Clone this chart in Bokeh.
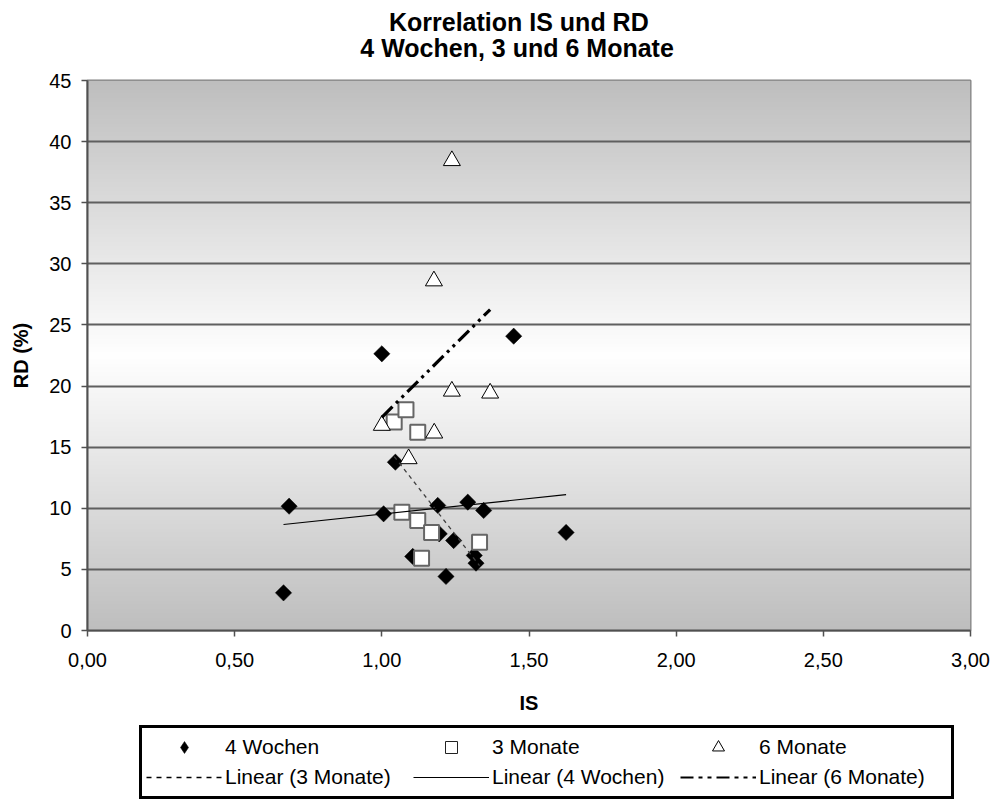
import numpy as np
from bokeh.plotting import figure
from bokeh.layouts import column
from bokeh.models import Range1d, FixedTicker, Legend, LegendItem, Label
from bokeh.embed import file_html
from bokeh.resources import INLINE

# ---------------- data ----------------
TITLE_1 = "Korrelation IS und RD"
TITLE_2 = "4 Wochen, 3 und 6 Monate"
X_LABEL = "IS"
Y_LABEL = "RD (%)"
X_TICKS = [0.0, 0.5, 1.0, 1.5, 2.0, 2.5, 3.0]
X_TICK_LABELS = ["0,00", "0,50", "1,00", "1,50", "2,00", "2,50", "3,00"]
Y_TICKS = [0, 5, 10, 15, 20, 25, 30, 35, 40, 45]

SERIES_NAMES = ["4 Wochen", "3 Monate", "6 Monate"]

IS_4W = [0.666, 0.685, 1.006, 1.000, 1.046, 1.105, 1.190, 1.195, 1.218, 1.244,
         1.292, 1.314, 1.320, 1.346, 1.448, 1.626]
RD_4W = [3.08, 10.17, 9.55, 22.64, 13.77, 6.06, 10.23, 7.91, 4.42, 7.36,
         10.50, 6.14, 5.51, 9.82, 24.08, 8.02]

IS_3M = [1.042, 1.082, 1.122, 1.068, 1.122, 1.169, 1.332, 1.135]
RD_3M = [17.05, 18.06, 16.23, 9.68, 9.00, 8.02, 7.23, 5.92]

IS_6M = [1.238, 1.177, 1.238, 1.368, 1.000, 1.178, 1.091]
RD_6M = [38.44, 28.60, 19.58, 19.42, 16.78, 16.15, 14.05]

X_MIN, X_MAX = 0.0, 3.0
Y_MIN, Y_MAX = 0.0, 45.0

FONT = "Liberation Sans"

# styles
S4 = dict(marker="square", angle=np.pi / 4, size=11.5,
          fill_color="black", line_color="black", line_width=0.5)
S4_LEG = dict(marker="diamond", size=12, fill_color="black", line_color="black",
              line_width=0.5)
S3 = dict(marker="square", size=15, fill_color="white",
          line_color="#666666", line_width=2)
S3_LEG = dict(marker="square", size=12, fill_color="white",
              line_color="#222222", line_width=1)
S6 = dict(marker="triangle", size=17, fill_color="white",
          line_color="black", line_width=1)
L3 = dict(line_color="#404040", line_width=1.3, line_dash="4 4")
L3_LEG = dict(line_color="black", line_width=1.3, line_dash="5 5")
L4 = dict(line_color="black", line_width=1.2)
L6 = dict(line_color="black", line_width=3.2, line_dash="15 5 3 5 3 5")
L6_LEG = dict(line_color="black", line_width=2.2, line_dash="13 5 4 5 4 5")


def trend(xs, ys):
    k, d = np.polyfit(xs, ys, 1)
    x0, x1 = min(xs), max(xs)
    return [x0, x1], [k * x0 + d, k * x1 + d]


def strip(height):
    f = figure(width=994, height=height, output_backend="svg", toolbar_location=None,
               x_axis_type=None, y_axis_type=None,
               x_range=Range1d(0, 1), y_range=Range1d(0, height),
               min_border_left=0, min_border_right=0, min_border_top=0,
               min_border_bottom=0)
    f.outline_line_color = None
    f.background_fill_color = "white"
    f.border_fill_color = "white"
    f.xgrid.visible = False
    f.ygrid.visible = False
    return f


# ---------------- title strip ----------------
TH = 64
t = strip(TH)
t.add_layout(Label(x=0.4885, y=TH - 21.7, text=TITLE_1, text_align="center",
                   text_baseline="middle", text_font=FONT, text_font_size="25px",
                   text_font_style="bold", text_color="black"))
t.add_layout(Label(x=0.4865, y=TH - 47.7, text=TITLE_2, text_align="center",
                   text_baseline="middle", text_font=FONT, text_font_size="25px",
                   text_font_style="bold", text_color="black"))

# ---------------- main plot ----------------
p = figure(width=994, height=656, output_backend="svg", toolbar_location=None,
           title=None,
           x_range=Range1d(X_MIN, X_MAX), y_range=Range1d(Y_MIN, Y_MAX),
           min_border_left=87, min_border_right=24, min_border_top=16,
           min_border_bottom=90)

p.background_fill_color = "white"
p.border_fill_color = "white"
p.outline_line_color = "#808080"
p.outline_line_width = 2

# gradient background of plot area
n = 450
frac = (np.arange(n) + 0.5) / n
dist = np.abs(frac - 0.5) / 0.5
g = np.clip(255 - dist * (255 - 190), 0, 255).astype(np.uint8)
img = np.zeros((n, 1), dtype=np.uint32)
view = img.view(dtype=np.uint8).reshape((n, 1, 4))
view[:, :, 0] = g[:, None]
view[:, :, 1] = g[:, None]
view[:, :, 2] = g[:, None]
view[:, :, 3] = 255
p.image_rgba(image=[img], x=X_MIN, y=Y_MIN, dw=X_MAX - X_MIN, dh=Y_MAX - Y_MIN, level="image")

# grid
p.xgrid.visible = False
p.ygrid.ticker = FixedTicker(ticks=Y_TICKS)
p.ygrid.grid_line_color = "#5f5f5f"
p.ygrid.grid_line_width = 2

# axes
p.xaxis.ticker = FixedTicker(ticks=X_TICKS)
p.xaxis.major_label_overrides = {t_: l for t_, l in zip(X_TICKS, X_TICK_LABELS)}
p.yaxis.ticker = FixedTicker(ticks=Y_TICKS)
p.xaxis.axis_label = X_LABEL
p.yaxis.axis_label = Y_LABEL
for ax in (p.xaxis, p.yaxis):
    ax.axis_line_color = "#505050"
    ax.axis_line_width = 2
    ax.major_tick_line_color = "#505050"
    ax.major_tick_line_width = 1.5
    ax.major_tick_in = 0
    ax.major_tick_out = 6
    ax.minor_tick_line_color = None
    ax.major_label_text_font = FONT
    ax.major_label_text_font_size = "20px"
    ax.major_label_text_color = "black"
    ax.axis_label_text_font = FONT
    ax.axis_label_text_font_size = "20px"
    ax.axis_label_text_font_style = "bold"
    ax.axis_label_text_color = "black"
p.xaxis.major_label_standoff = 16
p.xaxis.axis_label_standoff = 22
p.yaxis.major_label_standoff = 10
p.yaxis.axis_label_standoff = 14

# markers
p.scatter(IS_4W, RD_4W, **S4)
p.scatter(IS_3M, RD_3M, **S3)
p.scatter(IS_6M, RD_6M, **S6)

# trend lines (least squares from the data)
tx3, ty3 = trend(IS_3M, RD_3M)
tx4, ty4 = trend(IS_4W, RD_4W)
tx6, ty6 = trend(IS_6M, RD_6M)
p.line(tx3, ty3, **L3)
p.line(tx4, ty4, **L4)
p.line(tx6, ty6, **L6)

# ---------------- legend strip below ----------------
LH = 87
q = strip(LH)
# hidden proxy renderers carrying the series styles for the legend
g4 = q.scatter(IS_4W, RD_4W, visible=False, **S4_LEG)
g3 = q.scatter(IS_3M, RD_3M, visible=False, **S3_LEG)
g6 = q.scatter(IS_6M, RD_6M, visible=False, **S6)
h3 = q.line(tx3, ty3, visible=False, **L3_LEG)
h4 = q.line(tx4, ty4, visible=False, **L4)
h6 = q.line(tx6, ty6, visible=False, **L6_LEG)

legend = Legend(
    items=[
        LegendItem(label=SERIES_NAMES[0], renderers=[g4]),
        LegendItem(label=SERIES_NAMES[1], renderers=[g3]),
        LegendItem(label=SERIES_NAMES[2], renderers=[g6]),
        LegendItem(label="Linear (" + SERIES_NAMES[1] + ")", renderers=[h3]),
        LegendItem(label="Linear (" + SERIES_NAMES[0] + ")", renderers=[h4]),
        LegendItem(label="Linear (" + SERIES_NAMES[2] + ")", renderers=[h6]),
    ],
    orientation="horizontal", ncols=3,
    location=(52, 8),
    glyph_width=76, glyph_height=30, label_height=20,
    label_standoff=3, label_width=188, spacing=0, padding=4, margin=0,
    label_text_font=FONT, label_text_font_size="21px", label_text_color="black",
    border_line_color="black", border_line_width=3, border_line_alpha=1.0,
    background_fill_color="white", background_fill_alpha=1.0,
    inactive_fill_alpha=0.0,
)
q.add_layout(legend)

layout = column(t, p, q, spacing=0)
open("out.html", "w").write(file_html(layout, INLINE))
